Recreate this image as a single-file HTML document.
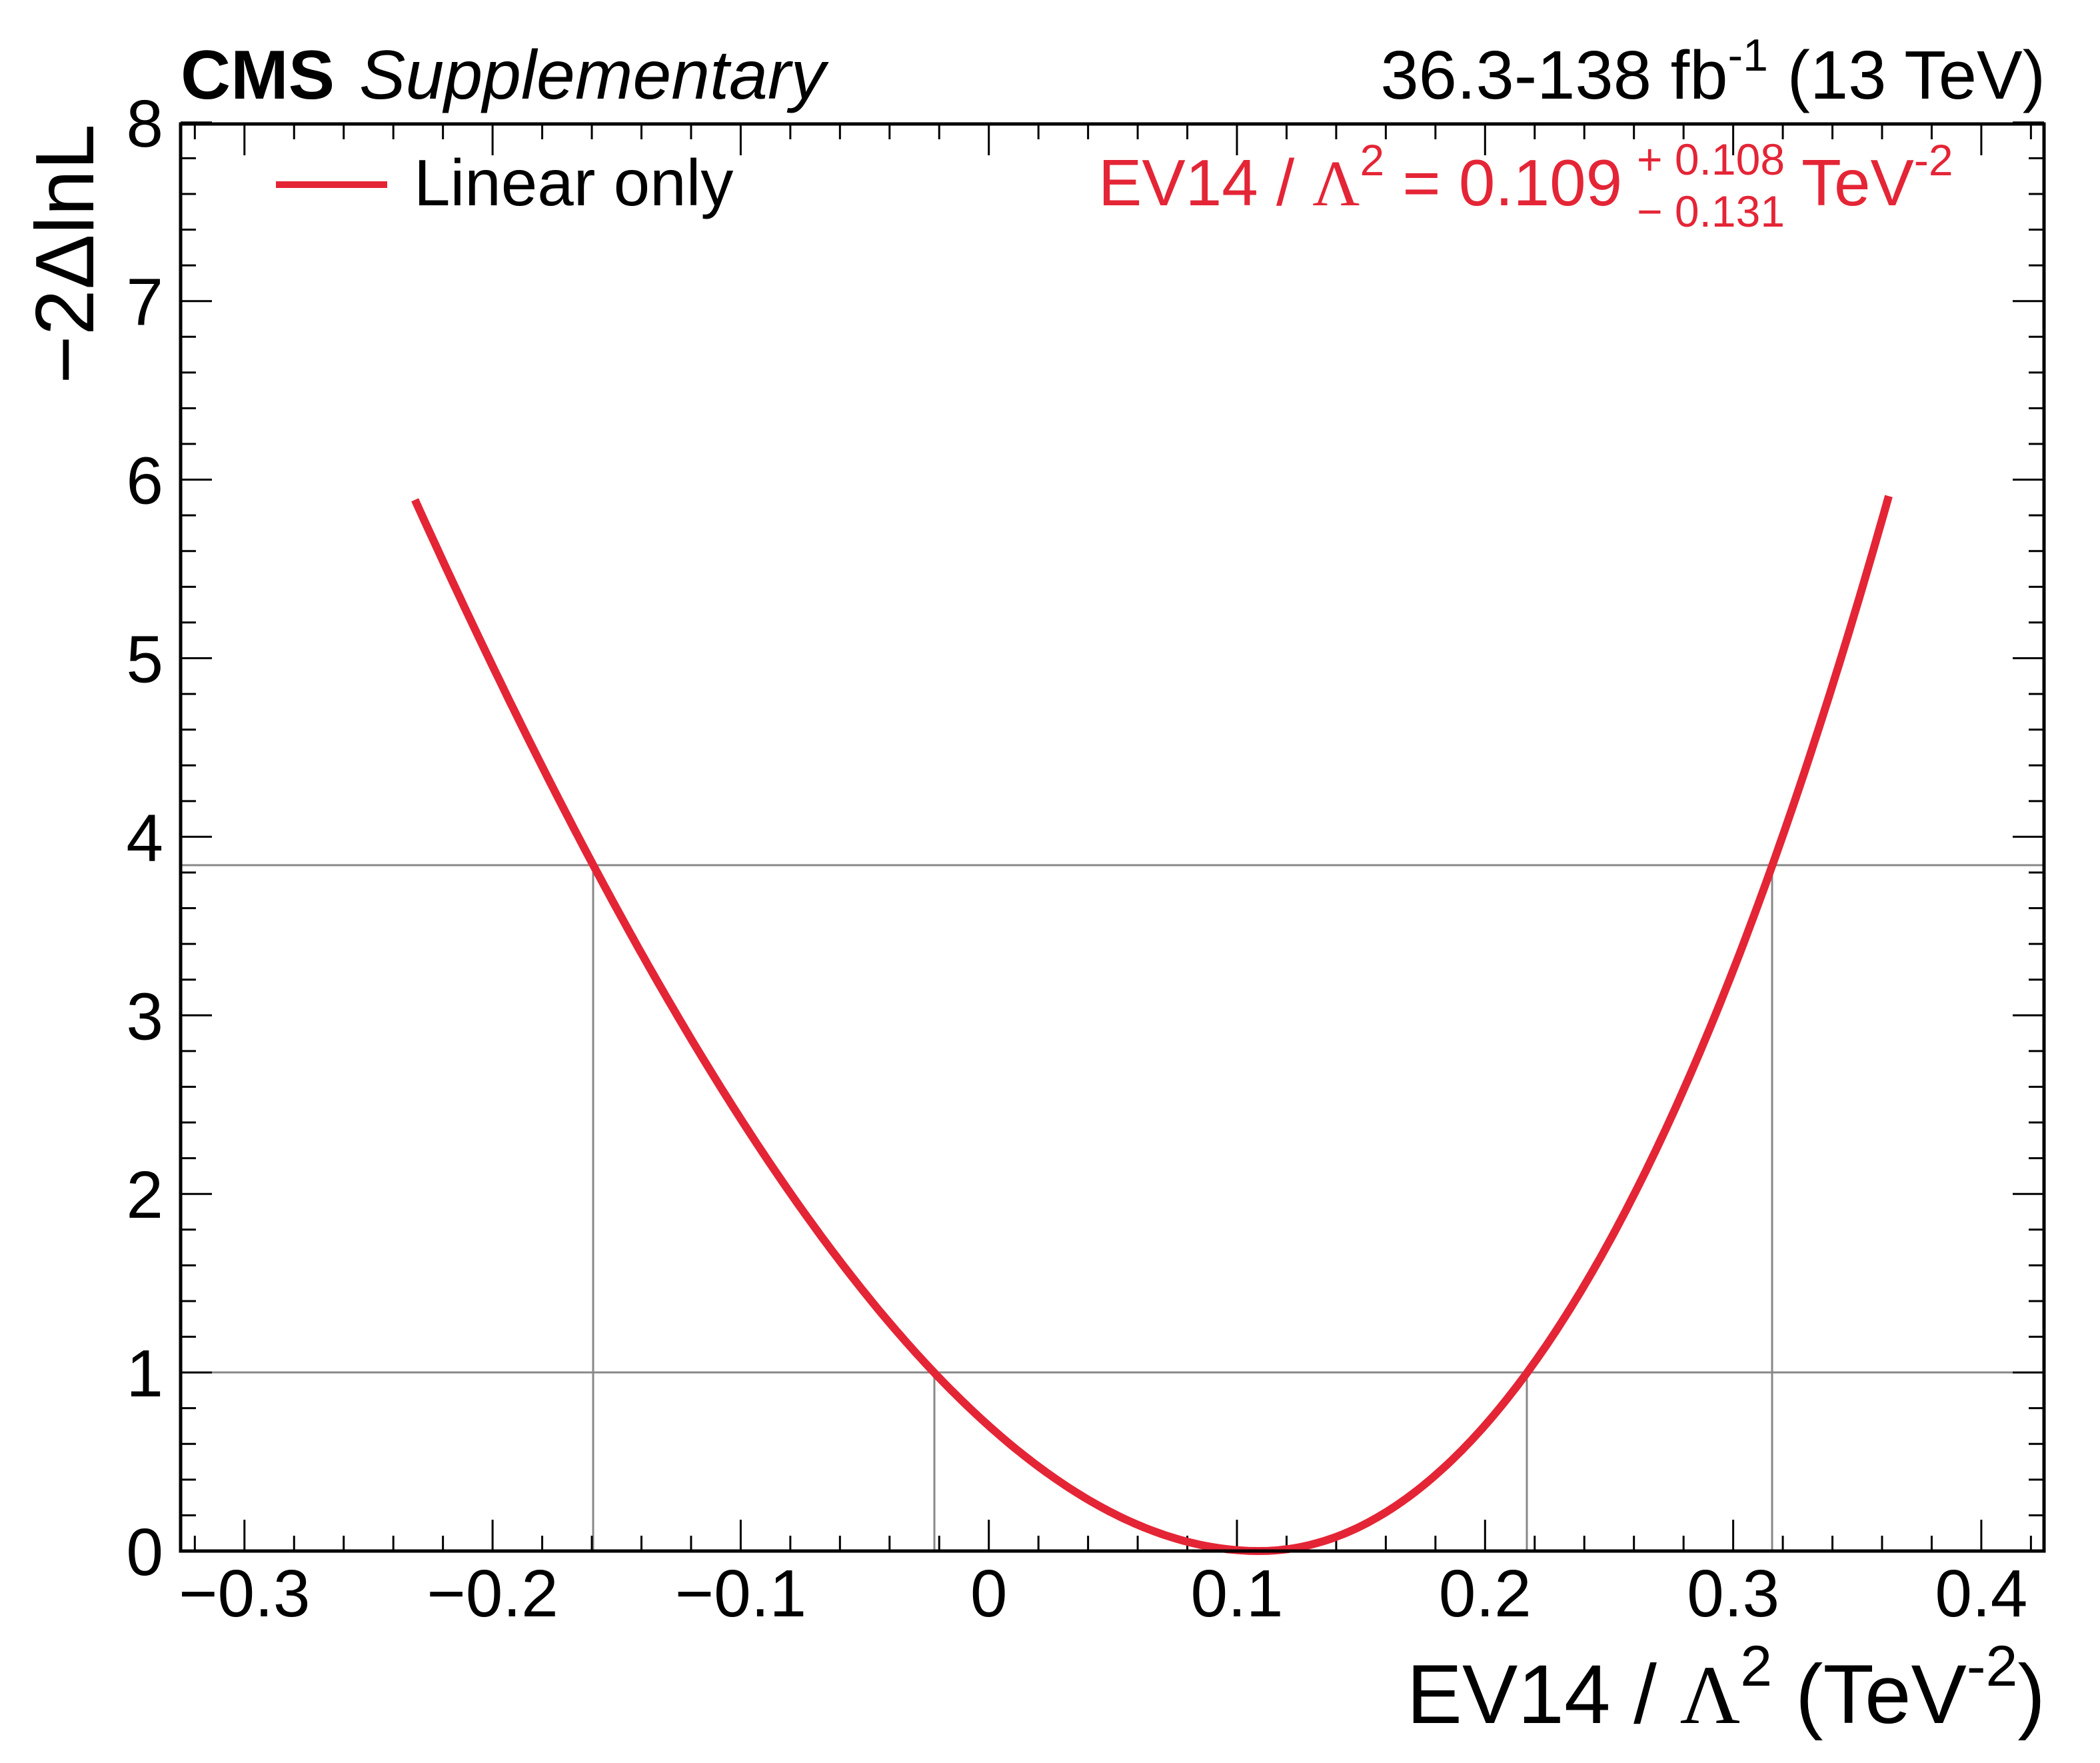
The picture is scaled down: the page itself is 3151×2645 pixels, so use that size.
<!DOCTYPE html>
<html><head><meta charset="utf-8"><style>
html,body{margin:0;padding:0;background:#fff}
svg{display:block}
text{font-family:"Liberation Sans",sans-serif}
</style></head><body>
<svg id="s" width="3151" height="2645" viewBox="0 0 3151 2645" xmlns="http://www.w3.org/2000/svg">
<g id="grid" stroke="#888" stroke-width="3" fill="none">
<line x1="271" y1="2059" x2="3067" y2="2059"/>
<line x1="271" y1="1298" x2="3067" y2="1298"/>
<line x1="890" y1="2327" x2="890" y2="1298"/>
<line x1="2659" y1="2327" x2="2659" y2="1298"/>
<line x1="1402" y1="2327" x2="1402" y2="2059"/>
<line x1="2291" y1="2327" x2="2291" y2="2059"/>
</g>
<g id="ticks" stroke="#000" stroke-width="3"></g>
<path id="curve" d="" stroke="#e42536" stroke-width="12" fill="none" stroke-linejoin="round"/>
<rect x="271" y="186" width="2796" height="2141" fill="none" stroke="#000" stroke-width="5"/>
<g id="labels" font-size="100" fill="#000"></g>
<text x="271" y="148" font-size="104" font-weight="bold">CMS</text>
<text x="539" y="148" font-size="104" font-style="italic">Supplementary</text>
<text x="3069" y="148" font-size="103" text-anchor="end">36.3-138 fb<tspan dy="-42" font-size="68">-1</tspan><tspan dy="42"> (13 TeV)</tspan></text>
<line x1="414" y1="277" x2="581" y2="277" stroke="#e42536" stroke-width="10"/>
<text x="621" y="308" font-size="98">Linear only</text>
<g fill="#e42536">
<text x="1648" y="308" font-size="98">EV14 / <tspan font-family="Liberation Serif,serif">Λ</tspan><tspan dy="-45" font-size="66">2</tspan><tspan dy="45"> = 0.109</tspan></text>
<text x="2456" y="262" font-size="66">+ 0.108</text>
<text x="2456" y="340" font-size="66">− 0.131</text>
<text x="2703" y="308" font-size="98">TeV<tspan dy="-45" font-size="66">-2</tspan></text>
</g>
<text x="3069" y="2585" font-size="125" text-anchor="end">EV14 / <tspan font-family="Liberation Serif,serif">Λ</tspan><tspan dy="-56" font-size="86">2</tspan><tspan dy="56"> (TeV</tspan><tspan dy="-56" font-size="86">-2</tspan><tspan dy="56">)</tspan></text>
<text transform="translate(140,186) rotate(-90)" font-size="124" text-anchor="end">−2ΔlnL</text>
</svg>
<script>
(function(){
var ns="http://www.w3.org/2000/svg";
function X(v){return 1483.7+v*3723;} function Y(v){return 2327-v*267.9;}
var t=document.getElementById('ticks'),L=document.getElementById('labels');
function ln(a,b,c,d){var e=document.createElementNS(ns,'line');e.setAttribute('x1',a);e.setAttribute('y1',b);e.setAttribute('x2',c);e.setAttribute('y2',d);t.appendChild(e);}
function tx(x,y,s,anc){var e=document.createElementNS(ns,'text');e.setAttribute('x',x);e.setAttribute('y',y);e.setAttribute('text-anchor',anc);e.textContent=s;L.appendChild(e);}
for(var i=-16;i<=21;i++){var v=i*0.02,x=X(v);if(x<273||x>3065)continue;var maj=(i%5===0);var len=maj?47:23;ln(x,2327,x,2327-len);ln(x,186,x,186+len);
 if(maj){var n=i/5;var s=n===0?"0":(n<0?"−":"")+"0."+Math.abs(n);tx(x,2425,s,'middle');}}
for(var j=0;j<=40;j++){var y=Y(j*0.2);var maj=(j%5===0);var len=maj?47:23;ln(271,y,271+len,y);ln(3067,y,3067-len,y);
 if(maj)tx(245,y+36,String(j/5),'end');}
var d="";var first=true;
for(var v=-0.2313;v<=0.3628;v+=0.002){var dx=v-0.109,s;
 if(dx<0){var a=-dx;var k=7.63-(a-0.131)*2.39;s=a*k;}else{var k=9.26+(dx-0.108)*2.2;s=dx*k;}
 var q=s*s;d+=(first?"M":"L")+X(v).toFixed(1)+","+Y(q).toFixed(1)+" ";first=false;}
document.getElementById('curve').setAttribute('d',d);
})();
</script>
</body></html>
